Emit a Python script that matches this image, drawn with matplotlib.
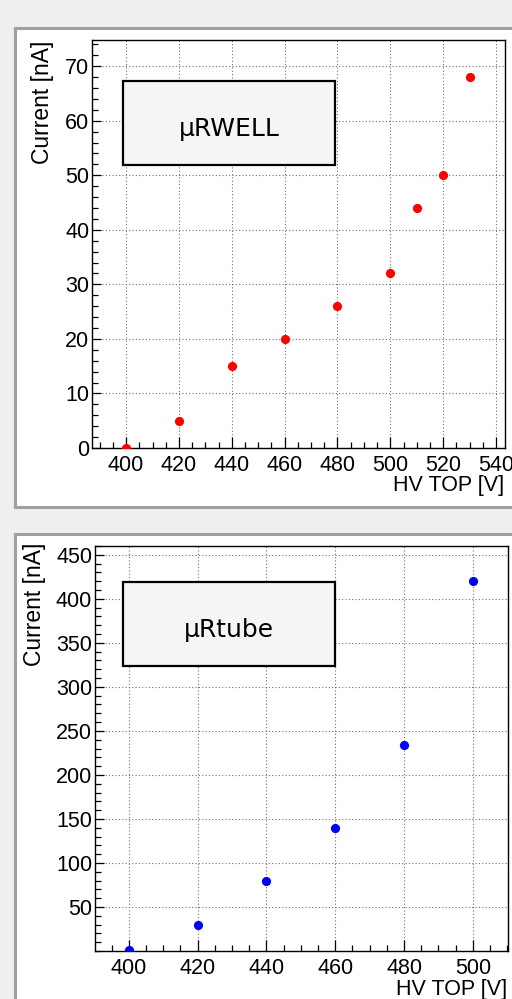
import matplotlib
matplotlib.use("Agg")
import matplotlib.pyplot as plt
from matplotlib.patches import Rectangle
from matplotlib.ticker import MultipleLocator, FixedLocator
import numpy as np

plt.rcParams['font.family'] = ['Liberation Sans', 'DejaVu Sans']

# ---- data ----
rwell_hv = [400, 420, 440, 460, 480, 500, 510, 520, 530]
rwell_current = [0, 5, 15, 20, 26, 32, 44, 50, 68]
rtube_hv = [400, 420, 440, 460, 480, 500]
rtube_current = [1, 30, 80, 140, 234, 420]

top_xticks = [400, 420, 440, 460, 480, 500, 520, 540]
top_yticks = [0, 10, 20, 30, 40, 50, 60, 70]
bot_xticks = [400, 420, 440, 460, 480, 500]
bot_yticks = [50, 100, 150, 200, 250, 300, 350, 400, 450]

W, H = 512, 999
fig = plt.figure(figsize=(W / 100, H / 100), dpi=100)
fig.patch.set_facecolor('#efefef')

def px_rect(x0, y0, x1, y1):
    return [x0 / W, (H - y1) / H, (x1 - x0) / W, (y1 - y0) / H]

# pads
for (x0, y0, x1, y1) in [(15, 28, 530, 507), (15, 534, 530, 1020)]:
    r = px_rect(x0, y0, x1, y1)
    fig.patches.append(Rectangle((r[0], r[1]), r[2], r[3], transform=fig.transFigure,
                                 facecolor='white', edgecolor='#a0a0a0', linewidth=2.2,
                                 zorder=-5))

def style_axes(ax):
    ax.set_zorder(2)
    for s in ax.spines.values():
        s.set_color('black')
        s.set_linewidth(1.0)
    ax.grid(True, which='major', color='#707070', linestyle=(0, (1, 2)), linewidth=0.8)
    ax.set_axisbelow(True)
    ax.tick_params(axis='both', which='both', direction='in', top=False, right=False,
                   labelsize=15.5, colors='black', width=0.9)
    ax.tick_params(axis='x', which='major', length=8, pad=5)
    ax.tick_params(axis='x', which='minor', length=4.5)
    ax.tick_params(axis='y', which='major', length=6.5, pad=2)
    ax.tick_params(axis='y', which='minor', length=4)

def add_box(ax, x0, y0, x1, y1, text):
    ax.add_patch(Rectangle((x0, y0), x1 - x0, y1 - y0, transform=ax.transAxes,
                           facecolor='#f5f5f5', edgecolor='black', linewidth=1.6,
                           zorder=5))
    ax.text((x0 + x1) / 2, (y0 + y1) / 2 - 0.015, text, transform=ax.transAxes,
            ha='center', va='center', fontsize=18, family=['DejaVu Sans'], zorder=6)

# ---- top panel ----
ax1 = fig.add_axes(px_rect(92, 40, 505, 448))
ax1.plot(rwell_hv, rwell_current, 'o', color='#ff0000', markersize=5.6, zorder=4)
ax1.set_xlim(387.1, 543.4)
ax1.set_ylim(0, 74.8)
ax1.xaxis.set_major_locator(FixedLocator(top_xticks))
ax1.yaxis.set_major_locator(FixedLocator(top_yticks))
ax1.xaxis.set_minor_locator(MultipleLocator(5))
ax1.yaxis.set_minor_locator(MultipleLocator(2))
style_axes(ax1)
add_box(ax1, 0.075, 0.694, 0.588, 0.8995, 'μRWELL')

# ---- bottom panel ----
ax2 = fig.add_axes(px_rect(95, 546, 508, 951))
ax2.plot(rtube_hv, rtube_current, 'o', color='#0000ff', markersize=5.6, zorder=4)
ax2.set_xlim(390.2, 510.2)
ax2.set_ylim(0, 460)
ax2.xaxis.set_major_locator(FixedLocator(bot_xticks))
ax2.yaxis.set_major_locator(FixedLocator(bot_yticks))
ax2.xaxis.set_minor_locator(MultipleLocator(5))
ax2.yaxis.set_minor_locator(MultipleLocator(10))
style_axes(ax2)
add_box(ax2, 0.0678, 0.704, 0.581, 0.911, 'μRtube')

# axis titles (ROOT-style: right/top aligned)
fig.text(42 / W, 1 - 41 / H, 'Current [nA]', rotation=90, ha='center', va='top', fontsize=16.5)
fig.text(504 / W, 1 - 486 / H, 'HV TOP [V]', ha='right', va='center', fontsize=15.5)
fig.text(35 / W, 1 - 543 / H, 'Current [nA]', rotation=90, ha='center', va='top', fontsize=16.5)
fig.text(507 / W, 1 - 990 / H, 'HV TOP [V]', ha='right', va='center', fontsize=15.5)

fig.savefig('out.png', dpi=100, facecolor=fig.get_facecolor())
